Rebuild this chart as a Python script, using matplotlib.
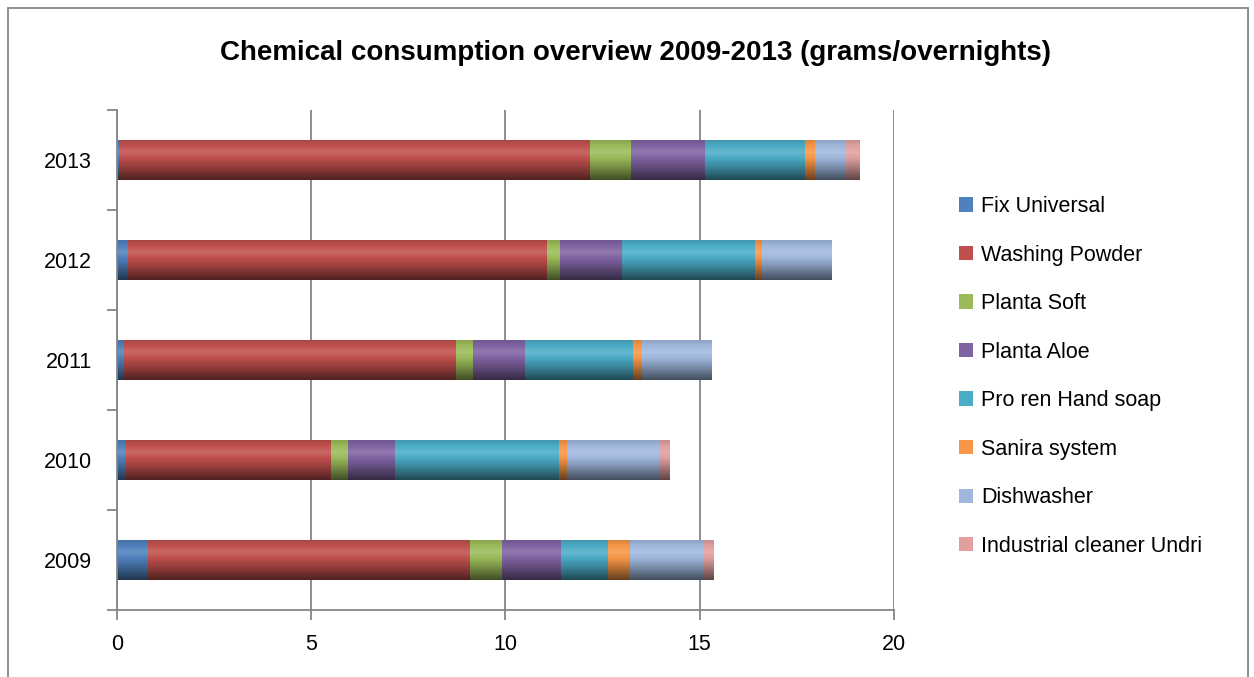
import numpy as np
import matplotlib.pyplot as plt
from matplotlib.colors import to_rgb
from matplotlib.patches import Rectangle

plt.rcParams['font.family'] = ['Liberation Sans', 'DejaVu Sans']

years = ['2009', '2010', '2011', '2012', '2013']
series = ['Fix Universal', 'Washing Powder', 'Planta Soft', 'Planta Aloe',
          'Pro ren Hand soap', 'Sanira system', 'Dishwasher', 'Industrial cleaner Undri']

# values per series, order 2009..2013
fix_universal = [0.80, 0.24, 0.18, 0.28, 0.04]
washing_powder = [8.29, 5.28, 8.55, 10.80, 12.13]
planta_soft = [0.81, 0.42, 0.43, 0.32, 1.05]
planta_aloe = [1.52, 1.22, 1.34, 1.60, 1.91]
hand_soap = [1.22, 4.22, 2.79, 3.42, 2.58]
sanira = [0.56, 0.20, 0.22, 0.17, 0.25]
dishwasher = [1.88, 2.39, 1.77, 1.80, 0.81]
undri = [0.28, 0.25, 0.02, 0.02, 0.34]

data = [fix_universal, washing_powder, planta_soft, planta_aloe,
        hand_soap, sanira, dishwasher, undri]
colors = ['#4F81BD', '#C0504D', '#9BBB59', '#8064A2',
          '#4BACC6', '#F79646', '#A0B8DE', '#E0A0A0']


def shade(col, n=60):
    # excel-ish glossy look: highlight near the top, dark at the bottom
    base = np.array(to_rgb(col))
    t = np.linspace(0, 1, n)
    f = np.interp(t, [0, 0.08, 0.3, 0.6, 1.0], [0.88, 0.95, 1.12, 0.85, 0.42])
    rows = []
    for k in f:
        if k > 1:
            c = base + (1 - base) * (k - 1) * 1.2
        else:
            c = base * k
        rows.append(np.clip(c, 0, 1))
    return np.array(rows).reshape(n, 1, 3)


fig = plt.figure(figsize=(12.54, 6.77), dpi=100)
ax = fig.add_axes([0.0933, 0.099, 0.6196, 0.7385])

ypos = list(range(len(years)))
left = [0.0] * len(years)
for name, vals, col in zip(series, data, colors):
    bars = ax.barh(ypos, vals, left=left, height=0.4, color=col, label=name,
                   edgecolor='none', zorder=3)
    img = shade(col)
    for b in bars:
        x0, y0 = b.get_x(), b.get_y()
        w, h = b.get_width(), b.get_height()
        if w <= 0:
            continue
        ax.imshow(img, extent=(x0, x0 + w, y0, y0 + h), origin='upper',
                  aspect='auto', zorder=4, interpolation='bilinear')
    left = [l + v for l, v in zip(left, vals)]

ax.set_xlim(0, 20)
ax.set_ylim(-0.5, 4.5)
ax.set_xticks([0, 5, 10, 15, 20])
ax.set_yticks(ypos)
ax.set_yticklabels(years)
ax.set_yticks([-0.5, 0.5, 1.5, 2.5, 3.5, 4.5], minor=True)
ax.tick_params(axis='y', which='major', length=0, labelsize=15.5, pad=18)
ax.tick_params(axis='y', which='minor', length=7, color='#868686', width=1.3)
ax.tick_params(axis='x', length=7, color='#868686', width=1.3, labelsize=15.5, pad=10)
ax.xaxis.grid(True, color='#868686', linewidth=1.3, zorder=0)
for s in ['top', 'right']:
    ax.spines[s].set_visible(False)
for s in ['left', 'bottom']:
    ax.spines[s].set_color('#868686')
    ax.spines[s].set_linewidth(1.3)
    ax.spines[s].set_zorder(5)

fig.text(0.507, 0.922, 'Chemical consumption overview 2009-2013 (grams/overnights)',
         ha='center', va='center', fontsize=20, fontweight='bold')

leg = fig.legend(loc='center left', bbox_to_anchor=(0.749, 0.4440), frameon=False,
                 fontsize=15.5, handlelength=0.65, handleheight=0.65,
                 handletextpad=0.4, labelspacing=1.28)

fig.patches.append(Rectangle((8 / 1254, -0.01), 1240 / 1254, 1 - 8 / 677 + 0.01,
                             transform=fig.transFigure, fill=False,
                             edgecolor='#868686', linewidth=1.3))

fig.savefig('out.png', dpi=100)
